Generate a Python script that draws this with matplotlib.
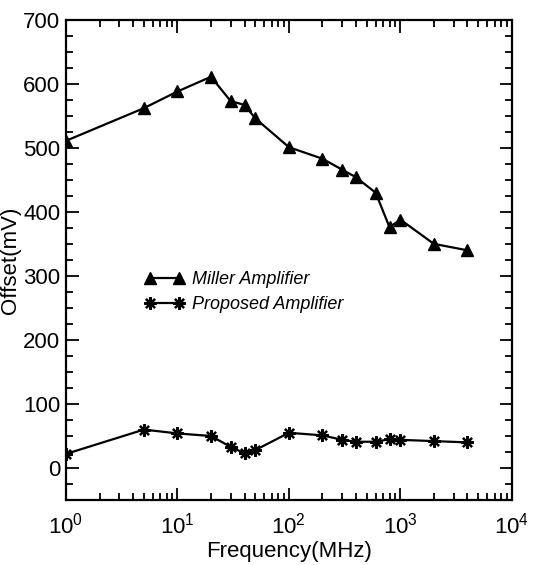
import numpy as np
import matplotlib
matplotlib.use("Agg")
import matplotlib.pyplot as plt
from matplotlib.ticker import MultipleLocator, LogLocator

# data
freq_mhz = [1, 5, 10, 20, 30, 40, 50, 100, 200, 300, 400, 600, 800, 1000, 2000, 4000]
miller_mv = [511, 562, 588, 611, 573, 567, 546, 501, 483, 466, 454, 430, 376, 388, 350, 340]
proposed_mv = [22, 60, 54, 50, 33, 23, 28, 55, 51, 44, 41, 41, 45, 44, 42, 40]

plt.rcParams['font.family'] = ['Liberation Sans', 'DejaVu Sans']
plt.rcParams['mathtext.default'] = 'regular'

fig = plt.figure(figsize=(5.41, 5.65), dpi=100)
ax = fig.add_axes([0.122, 0.115, 0.824, 0.85])

ax.plot(freq_mhz, miller_mv, color='black', lw=1.6, marker='^', ms=8,
        label='Miller Amplifier')
ax.plot(freq_mhz, proposed_mv, color='black', lw=1.6, marker=(8, 2, 0), ms=9,
        mew=1.6, label='Proposed Amplifier')

ax.set_xscale('log')
ax.set_xlim(1, 1e4)
ax.set_ylim(-50, 700)
ax.yaxis.set_major_locator(MultipleLocator(100))
ax.yaxis.set_minor_locator(MultipleLocator(25))
ax.xaxis.set_major_locator(LogLocator(base=10, numticks=10))
ax.xaxis.set_minor_locator(LogLocator(base=10, subs=np.arange(2, 10), numticks=20))

ax.tick_params(which='both', direction='in', top=True, right=True, width=1.3)
ax.tick_params(which='major', length=9, labelsize=16, pad=4)
ax.tick_params(axis='x', which='major', pad=9)
ax.tick_params(which='minor', length=5)
for s in ax.spines.values():
    s.set_linewidth(1.6)

ax.set_xlabel('Frequency(MHz)', fontsize=16, labelpad=2)
ax.set_ylabel('Offset(mV)', fontsize=16)
ax.yaxis.set_label_coords(-0.1, 0.5)

leg = ax.legend(loc='upper left', bbox_to_anchor=(0.14, 0.51), frameon=False,
                numpoints=2, handlelength=2.2, handletextpad=0.4,
                prop={'style': 'italic', 'size': 13}, labelspacing=0.45)

fig.savefig('out.png', dpi=100)
